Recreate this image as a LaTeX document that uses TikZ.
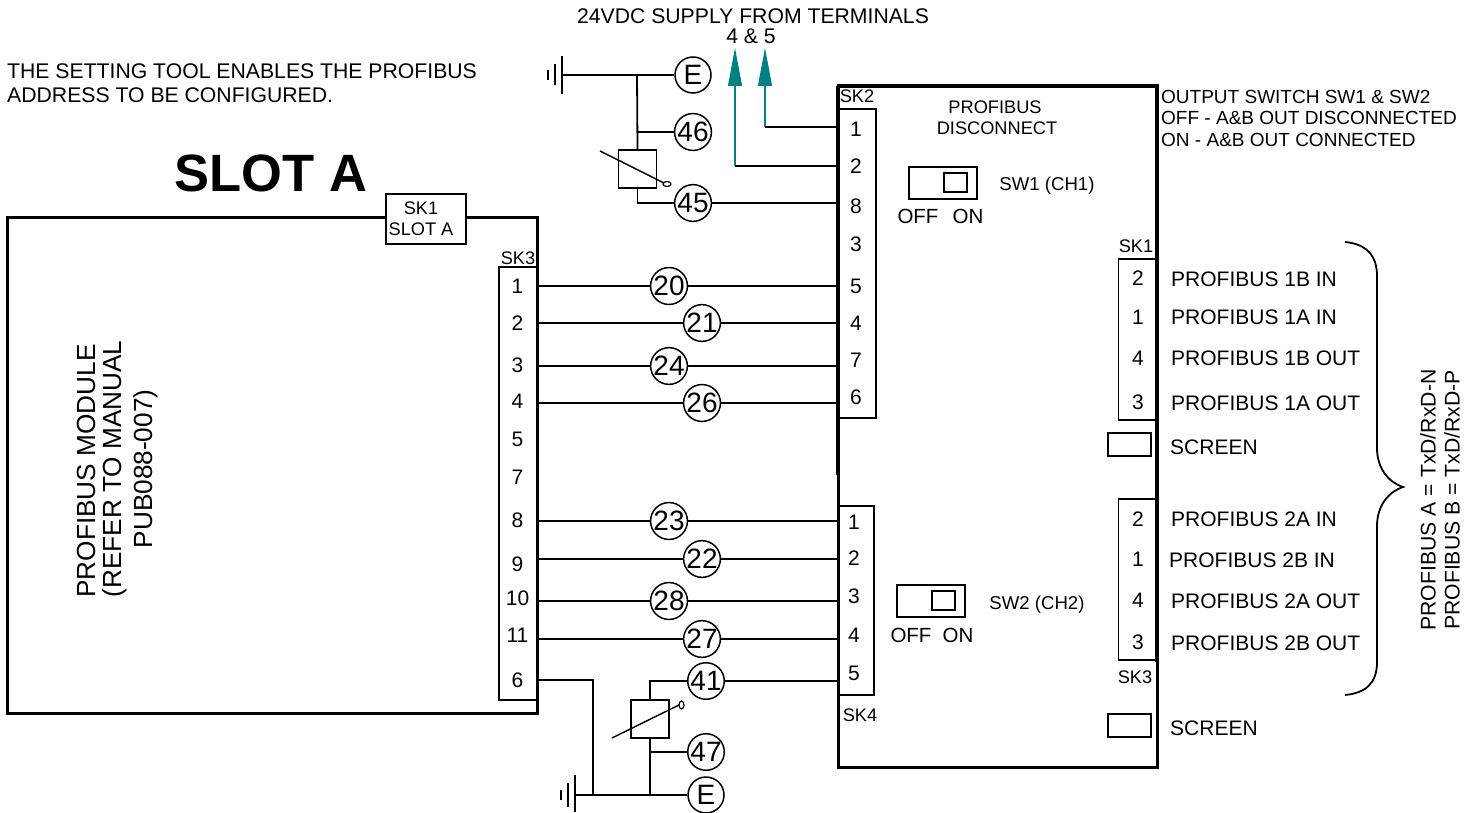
\documentclass[tikz,border=0pt]{standalone}
\usepackage{xcolor}
\usepackage{fontspec}
\setmainfont{Liberation Sans}
\definecolor{supplycolor}{RGB}{0, 128, 128}
\usetikzlibrary{arrows.meta, calc}
\tikzset{
  label21/.style={font=\fontsize{21.2}{21.2}\selectfont,inner sep=0pt},
  label19/.style={font=\fontsize{19}{19}\selectfont,inner sep=0pt,anchor=west},
  label18/.style={font=\fontsize{18.2}{18.2}\selectfont,inner sep=0pt},
  pinnum/.style={font=\fontsize{21}{21}\selectfont,inner sep=0pt},
  term/.style={circle,draw,line width=1.5pt,fill=white,minimum size=36pt,inner sep=0pt,font=\fontsize{28}{28}\selectfont},
  wire/.style={line width=1.8pt},
  strip/.style={draw,line width=1.6pt,fill=white,inner sep=0pt},
  relay/.style={draw,line width=1.4pt,fill=white,inner sep=0pt,minimum width=38pt,minimum height=38pt},
  screenbox/.style={draw,line width=1.6pt,inner sep=0pt,minimum width=43pt,minimum height=23pt},
  switchbox/.style={draw,line width=2pt,inner sep=0pt,minimum width=68pt,minimum height=32pt},
  switchknob/.style={draw,line width=1.6pt,inner sep=0pt,minimum width=23pt,minimum height=19pt},
  supply/.style={draw=supplycolor,line width=1.2pt,-{Triangle[length=38pt,width=14pt,fill=supplycolor]}},
}
\begin{document}
\begin{tikzpicture}[x=1pt,y=-1pt]
  \useasboundingbox (0,0) rectangle (1474,813);

  \node[draw,line width=3pt,inner sep=0pt,minimum width=530pt,minimum height=496pt] (module) at (272,465) {};
  \node[strip,minimum width=80pt,minimum height=50pt] (sk1a) at (426,219) {};
  \node[label18] (sk1atop) at (421,208) {SK1};
  \node[label18] (sk1abot) at (421,229) {SLOT A};
  \node[inner sep=0pt,font=\fontsize{52.5}{52.5}\selectfont\bfseries] (slota) at (271,173) {SLOT A};

  \node[label21,font=\fontsize{26.2}{26.2}\selectfont,rotate=90] (modtxt1) at (86,471) {PROFIBUS MODULE};
  \node[label21,font=\fontsize{26.2}{26.2}\selectfont,rotate=90] (modtxt2) at (115,469) {(REFER TO MANUAL};
  \node[label21,font=\fontsize{26.2}{26.2}\selectfont,rotate=90] (modtxt3) at (146,469) {PUB088-007)};

  \node[label21,anchor=west] (note1) at (7,71) {THE SETTING TOOL ENABLES THE PROFIBUS};
  \node[label21,anchor=west] (note2) at (7,95) {ADDRESS TO BE CONFIGURED.};
  \node[label21] (sup1) at (753,16) {24VDC SUPPLY FROM TERMINALS};
  \node[label21] (sup2) at (751,36) {4 \& 5};

  \node[draw,line width=3pt,inner sep=0pt,outer sep=0pt,minimum width=319pt,minimum height=681pt] (disc) at (997.5,426.5) {};

  \node[strip,minimum width=38pt,minimum height=309pt] (sk2) at (857,263.5) {};
  \node[strip,minimum width=36pt,minimum height=189pt] (sk4) at (856,600.5) {};
  \node[strip,minimum width=38pt,minimum height=161pt] (sk1) at (1137.5,339.5) {};
  \node[strip,minimum width=38pt,minimum height=161pt] (sk3r) at (1137.5,579.5) {};
  \node[strip,minimum width=38pt,minimum height=433pt] (sk3) at (518,483.5) {};
  \draw[line width=4.5pt] (disc.north west) -- ($(disc.north west)+(0,389)$);
  \draw[line width=3pt] (disc.west |- sk4.north) -- (disc.west |- sk4.south);
  \draw[line width=4pt] (disc.north west) -- (disc.north east) -- ($(disc.north east)+(0,576)$);
  \node[label18] (sk2lab) at (857,96) {SK2};
  \node[label18] (sk4lab) at (860,715) {SK4};
  \node[label18] (sk1lab) at (1136,246) {SK1};
  \node[label18] (sk3rlab) at (1135,677) {SK3};
  \node[label18] (sk3lab) at (518,258) {SK3};

  \foreach \n/\y in {1/286,2/323,3/365,4/401,5/439,7/477,8/520,9/564,10/598,11/635,6/680}
    \node[pinnum] (sk3-\n) at (517.5,\y) {\n};
  \foreach \n/\y in {1/129,2/166,8/206,3/244,5/286,4/323,7/360,6/397}
    \node[pinnum] (sk2-\n) at (856,\y) {\n};
  \foreach \n/\y in {1/522,2/558,3/596,4/635,5/673}
    \node[pinnum] (sk4-\n) at (854,\y) {\n};
  \foreach \n/\y in {2/278,1/317,4/358,3/402}
    \node[pinnum] (sk1-\n) at (1138,\y) {\n};
  \foreach \n/\y in {2/519,1/559,4/600,3/642}
    \node[pinnum] (sk3r-\n) at (1138,\y) {\n};

  \foreach \name/\x/\y/\txt in {a/1171/279/PROFIBUS 1B IN,b/1171/317/PROFIBUS 1A IN,c/1171/358/PROFIBUS 1B OUT,
      d/1171/403/PROFIBUS 1A OUT,e/1170/447/SCREEN,f/1171/519/PROFIBUS 2A IN,g/1169/560/PROFIBUS 2B IN,
      h/1171/601/PROFIBUS 2A OUT,i/1171/643/PROFIBUS 2B OUT,j/1170/728/SCREEN}
    \node[label21,anchor=west,font=\fontsize{21}{21}\selectfont] (port-\name) at (\x,\y) {\txt};

  \node[screenbox] (screen1) at (1129.5,444.5) {};
  \node[screenbox] (screen2) at (1129.5,725.5) {};

  \node[label19] (out1) at (1161,97) {OUTPUT SWITCH SW1 \& SW2};
  \node[label19] (out2) at (1161,118) {OFF - A\&B OUT DISCONNECTED};
  \node[label19] (out3) at (1161,140) {ON - A\&B OUT CONNECTED};
  \node[label18] (dis1) at (995,107) {PROFIBUS};
  \node[label18] (dis2) at (997,128) {DISCONNECT};

  \node[switchbox] (sw1) at (943,183) {};
  \node[switchknob] (sw1k) at (955.5,182.5) {};
  \node[label18,font=\fontsize{18.6}{18.6}\selectfont] (sw1lab) at (1047,186) {SW1 (CH1)};
  \node[label21,font=\fontsize{20.5}{20.5}\selectfont] (sw1off) at (918,216) {OFF};
  \node[label21,font=\fontsize{20.5}{20.5}\selectfont] (sw1on) at (968,216) {ON};
  \node[switchbox] (sw2) at (931,601) {};
  \node[switchknob] (sw2k) at (943.5,600.5) {};
  \node[label18,font=\fontsize{18.6}{18.6}\selectfont] (sw2lab) at (1037,605) {SW2 (CH2)};
  \node[label21,font=\fontsize{20.5}{20.5}\selectfont] (sw2off) at (911,635) {OFF};
  \node[label21,font=\fontsize{20.5}{20.5}\selectfont] (sw2on) at (958,635) {ON};

  \foreach \n/\x/\y/\from/\to in {20/669/286/sk3/sk2,21/702/323/sk3/sk2,24/669/366/sk3/sk2,26/702/403/sk3/sk2,
      23/669/521/sk3/sk4,22/702/559/sk3/sk4,28/669/601/sk3/sk4,27/702/639/sk3/sk4}
  {
    \node[term] (t\n) at (\x,\y) {\n};
    \draw[wire] (t\n) -- (t\n -| \from.east);
    \draw[wire] (t\n) -- (t\n -| \to.west);
  }

  \node[term] (te1) at (693,75) {E};
  \node[term] (t46) at (693,132) {46};
  \node[term] (t45) at (693,203) {45};
  \node[term] (t41) at (706,681) {41};
  \node[term] (t47) at (706,752) {47};
  \node[term] (te2) at (706,795) {E};

  \coordinate (gnd1) at (562,75);
  \coordinate (tap1) at (637,75);
  \node[relay] (rel1) at (637.5,169) {};
  \draw[wire] (te1) -- (gnd1);
  \draw[wire] (tap1) -- (rel1.north);
  \draw[wire] (t46) -- (t46 -| tap1);
  \draw[wire] (rel1.south) |- (t45);
  \draw[wire] (t45) -- (t45 -| sk2.west);
  \draw[line width=2pt] (562,56) -- (562,94);
  \draw[line width=2pt] (555,64) -- (555,85);
  \draw[line width=2pt] (548,70) -- (548,80);
  \draw[line width=1.4pt] (600,151) -- (664,183);
  \draw[line width=1.2pt] (667,184) ellipse (4pt and 2.5pt);

  \coordinate (gnd2) at (575,795);
  \coordinate (tap2) at (593,795);
  \coordinate (tap3) at (650,795);
  \node[relay] (rel2) at (650,719) {};
  \draw[wire] (te2) -- (gnd2);
  \draw[wire] (sk3.east |- sk3-6) -| (tap2);
  \draw[wire] (tap3) -- (rel2.south);
  \draw[wire] (t47) -- (t47 -| tap3);
  \draw[wire] (rel2.north) |- (t41);
  \draw[wire,line width=2.2pt] (t41) -- (t41 -| sk4.west);
  \draw[line width=2pt] (575,775) -- (575,812);
  \draw[line width=2pt] (568,783) -- (568,807);
  \draw[line width=2pt] (561,790) -- (561,800);
  \draw[line width=1.4pt] (612,738) -- (679,705);
  \draw[line width=1.2pt] (681.5,705) ellipse (2.5pt and 4pt);

  \coordinate (out-a) at (765,127);
  \coordinate (out-b) at (735,166);
  \coordinate (tip-a) at (765,48);
  \coordinate (tip-b) at (735,48);
  \draw[supply] (out-a) -- (tip-a);
  \draw[supply] (out-b) -- (tip-b);
  \draw[wire,line width=2.2pt] (out-a) -- (out-a -| sk2.west);
  \draw[wire,line width=2.2pt] (out-b) -- (out-b -| sk2.west);

  \draw[line width=1.8pt] (1345,242) .. controls (1366,244) and (1377,255) .. (1377,276)
    -- (1377,448) .. controls (1377,468) and (1388,482) .. (1403,487)
    .. controls (1388,492) and (1377,506) .. (1377,526)
    -- (1377,662) .. controls (1377,683) and (1366,693) .. (1345,695);
  \node[label21,rotate=90] (bus1) at (1428,500) {PROFIBUS A = TxD/RxD-N};
  \node[label21,rotate=90] (bus2) at (1452,500) {PROFIBUS B = TxD/RxD-P};
\end{tikzpicture}
\end{document}
